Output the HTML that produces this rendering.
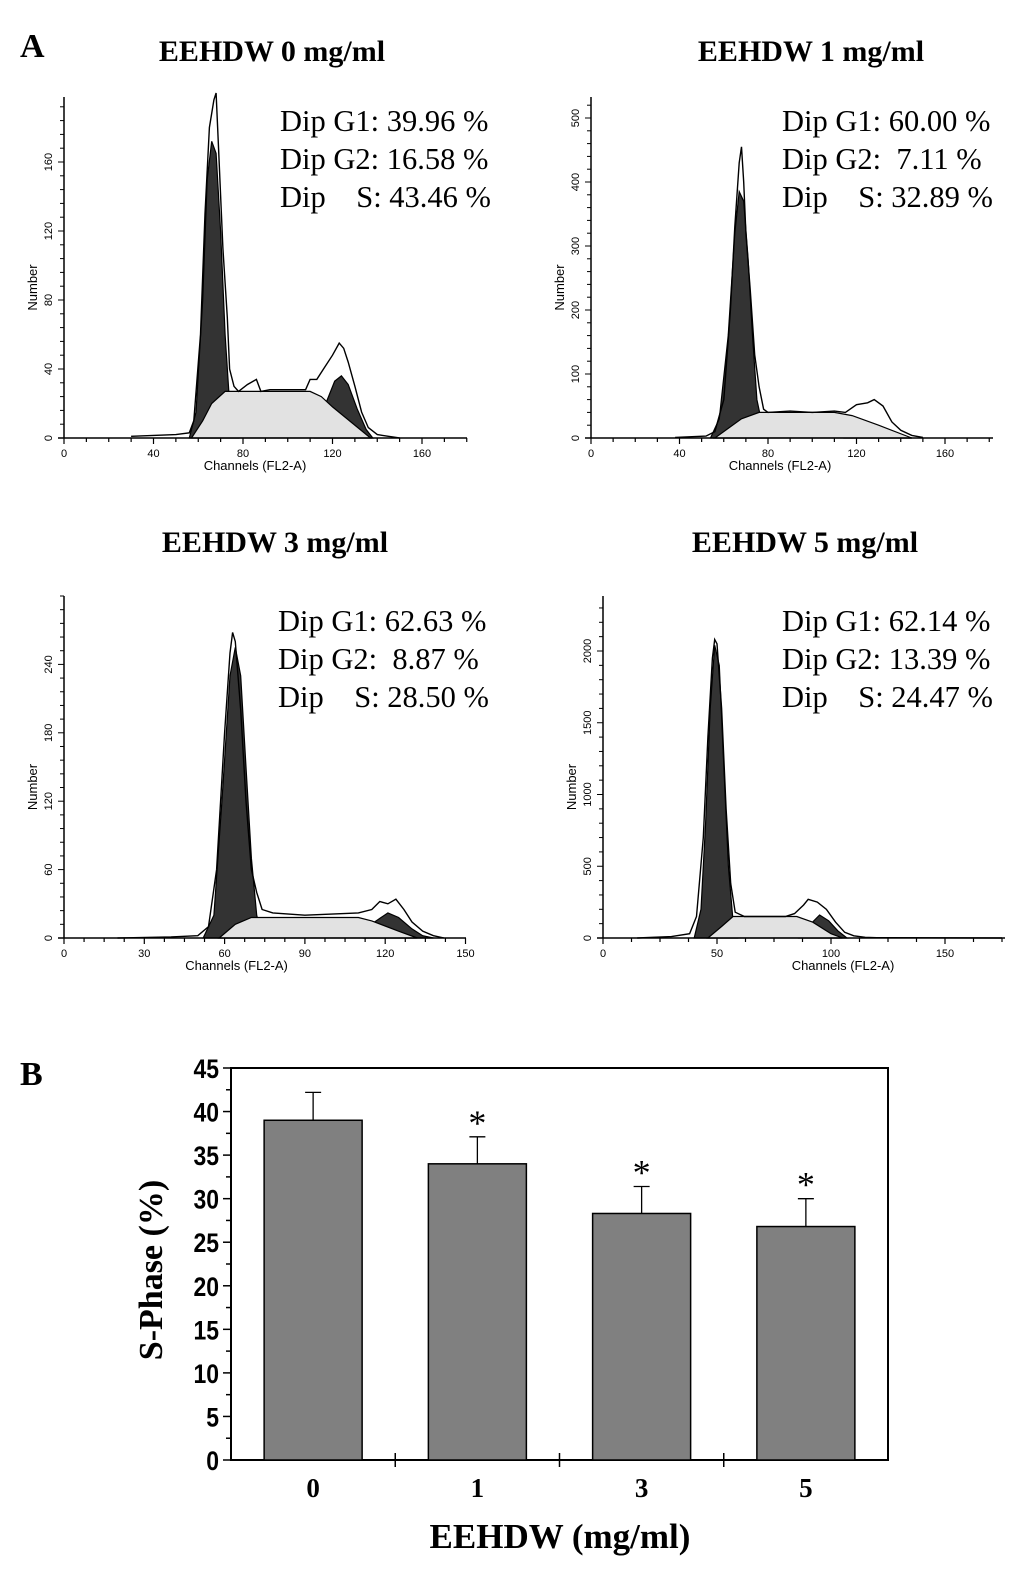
<!DOCTYPE html>
<html><head><meta charset="utf-8">
<style>
body{margin:0;background:#fff;}
svg{display:block;}
.serif{font-family:"Liberation Serif",serif;}
.sans{font-family:"Liberation Sans",sans-serif;}
</style></head>
<body>
<svg id="fig" width="1033" height="1570" viewBox="0 0 1033 1570" xmlns="http://www.w3.org/2000/svg">
<text x="20" y="57" class="serif" font-weight="bold" font-size="34">A</text>
<text x="20" y="1085" class="serif" font-weight="bold" font-size="34">B</text>
<g id="hists"></g>
<g id="bars"></g>
</svg>
<script>
// ---------- Histogram data (channel, count) ----------
const h1Obs=[[30,1],[50,2],[56,3],[58,10],[61,60],[63,130],[65,180],[67,196],[68,200],[69,170],[71,110],[72,90],[73,70],[74,40],[76,30],[78,27],[82,31],[86,34],[88,27],[92,28],[100,28],[108,28],[110,34],[113,34],[116,40],[120,48],[123,55],[125,52],[127,44],[130,30],[133,15],[136,6],[140,2],[145,1],[150,0]];
const h1G1=[[56,0],[59,15],[62,80],[64,150],[66,172],[68,165],[70,120],[72,60],[74,20],[76,5],[78,0]];
const h1S=[[57,0],[62,10],[66,20],[72,27],[110,27],[115,24],[120,18],[137,0]];
const h1G2=[[112,0],[117,20],[121,33],[124,36],[127,31],[131,17],[135,5],[138,0]];

const h2Obs=[[38,1],[52,3],[56,10],[60,60],[63,200],[65,330],[67,430],[68,455],[69,400],[70,320],[72,230],[74,130],[76,80],[78,45],[80,40],[90,42],[100,40],[110,42],[115,40],[120,52],[125,55],[128,60],[132,50],[136,25],[140,12],[145,4],[150,1]];
const h2G1=[[54,0],[58,30],[62,160],[65,320],[67,385],[69,370],[71,280],[73,160],[75,60],[78,10],[80,0]];
const h2S=[[56,0],[62,15],[68,30],[76,40],[110,40],[118,35],[130,20],[145,0]];
const h2G2=[[115,0],[120,10],[125,20],[130,18],[135,10],[140,3],[145,0]];

const h3Obs=[[20,0],[40,1],[50,2],[54,10],[57,60],[60,180],[62,250],[63,268],[64,260],[66,200],[68,120],[70,60],[72,40],[74,25],[78,22],[90,20],[100,21],[110,22],[115,25],[118,32],[121,30],[124,34],[127,25],[130,14],[134,6],[138,2],[142,0]];
const h3G1=[[52,0],[56,20],[59,120],[62,230],[64,255],[66,230],[68,150],[70,70],[72,20],[74,0]];
const h3S=[[58,0],[64,12],[70,18],[110,18],[115,15],[125,6],[132,0]];
const h3G2=[[112,0],[116,14],[121,22],[125,18],[130,8],[134,2],[138,0]];

const h4Obs=[[15,0],[30,10],[38,30],[41,150],[44,700],[46,1400],[48,1950],[49,2080],[50,2050],[52,1600],[54,900],[56,380],[58,180],[62,150],[70,150],[80,150],[84,170],[88,230],[90,270],[94,250],[98,200],[102,110],[106,40],[110,15],[115,5],[120,2],[175,0]];
const h4G1=[[40,0],[43,200],[45,800],[47,1600],[49,2040],[51,1900],[53,1200],[55,500],[57,120],[59,0]];
const h4S=[[46,0],[52,80],[57,150],[85,150],[92,110],[100,30],[105,0]];
const h4G2=[[86,0],[90,80],[95,160],[99,120],[103,50],[107,0]];

const titles=["EEHDW 0 mg/ml","EEHDW 1 mg/ml","EEHDW 3 mg/ml","EEHDW 5 mg/ml"];
const statG1=["39.96 %","60.00 %","62.63 %","62.14 %"];
const statG2=["16.58 %"," 7.11 %"," 8.87 %","13.39 %"];
const statS=["43.46 %","32.89 %","28.50 %","24.47 %"];
const xTicks1=[0,40,80,120,160], yTicks1=[0,40,80,120,160];
const xTicks2=[0,40,80,120,160], yTicks2=[0,100,200,300,400,500];
const xTicks3=[0,30,60,90,120,150], yTicks3=[0,60,120,180,240];
const xTicks4=[0,50,100,150], yTicks4=[0,500,1000,1500,2000];

// ---------- Bar chart data ----------
const barCats=["0","1","3","5"];
const barVals=[39.0,34.0,28.3,26.8];
const barErr=[3.2,3.1,3.1,3.2];
const barSig=[false,true,true,true];
const barYTicks=[0,5,10,15,20,25,30,35,40,45];

const NS="http://www.w3.org/2000/svg";
function mk(tag,attrs,parent){const e=document.createElementNS(NS,tag);for(const k in attrs)e.setAttribute(k,attrs[k]);parent.appendChild(e);return e;}

const panels=[
 {obs:h1Obs,g1:h1G1,s:h1S,g2:h1G2,x0:64,xpx:89.5/40,xEnd:467,y0:438,ypx:69/40,yTop:97,xt:xTicks1,yt:yTicks1,tx:272,ty:61,sx:280,sy:131},
 {obs:h2Obs,g1:h2G1,s:h2S,g2:h2G2,x0:591,xpx:88.5/40,xEnd:993,y0:438,ypx:64/100,yTop:97,xt:xTicks2,yt:yTicks2,tx:811,ty:61,sx:782,sy:131},
 {obs:h3Obs,g1:h3G1,s:h3S,g2:h3G2,x0:64,xpx:80.3/30,xEnd:466,y0:938,ypx:1.14,yTop:596,xt:xTicks3,yt:yTicks3,tx:275,ty:552,sx:278,sy:631},
 {obs:h4Obs,g1:h4G1,s:h4S,g2:h4G2,x0:603,xpx:114/50,xEnd:1005,y0:938,ypx:0.1435,yTop:596,xt:xTicks4,yt:yTicks4,tx:805,ty:552,sx:782,sy:631}
];
const hg=document.getElementById('hists');
panels.forEach((p,i)=>{
  const g=mk('g',{},hg);
  
  
  const X=v=>p.x0+v*p.xpx, Y=v=>p.y0-v*p.ypx;
  const poly=(arr)=>arr.map(d=>X(d[0]).toFixed(1)+','+Y(d[1]).toFixed(1)).join(' ');
  let e;
  e=mk('polygon',{points:poly(p.g1),fill:'#333',stroke:'#000','stroke-width':1.2},g);
  
  
  e=mk('polygon',{points:poly(p.g2),fill:'#333',stroke:'#000','stroke-width':1.2},g);
  
  
  e=mk('polygon',{points:poly(p.s),fill:'#e2e2e2',stroke:'#000','stroke-width':1.2},g);
  
  
  e=mk('polyline',{points:poly(p.obs),fill:'none',stroke:'#000','stroke-width':1.4},g);
  
  
  e=mk('line',{x1:p.x0,y1:p.yTop,x2:p.x0,y2:p.y0,stroke:'#000','stroke-width':1.5},g);
  
  
  e=mk('line',{x1:p.x0-6,y1:p.y0,x2:p.xEnd,y2:p.y0,stroke:'#000','stroke-width':1.5},g);
  
  
  for(let v=0;X(v)<=p.xEnd+0.5;v+=p.xt[1]/4){
    const major=p.xt.includes(v);
    mk('line',{x1:X(v),y1:p.y0,x2:X(v),y2:p.y0+(major?6:4),stroke:'#000','stroke-width':1.2},g);
  }
  p.xt.forEach(v=>{
    e=mk('text',{x:X(v),y:p.y0+19,'text-anchor':'middle','font-size':11,class:'sans'},g);
    e.textContent=v;
    
    
  });
  const ystep=p.yt[1]/5;
  for(let v=0;Y(v)>=p.yTop;v+=ystep){
    const major=p.yt.includes(Math.round(v));
    mk('line',{x1:p.x0-(major?6:4),y1:Y(v),x2:p.x0,y2:Y(v),stroke:'#000','stroke-width':1},g);
  }
  p.yt.forEach(v=>{
    e=mk('text',{x:p.x0-12,y:Y(v),'text-anchor':'middle','font-size':11,class:'sans',transform:`rotate(-90 ${p.x0-12} ${Y(v)})`},g);
    e.textContent=v;
    
    
  });
  const ymid=(p.y0+p.yTop)/2+20;
  e=mk('text',{x:p.x0-27,y:ymid,'text-anchor':'middle','font-size':13,class:'sans',transform:`rotate(-90 ${p.x0-27} ${ymid})`},g);
  e.textContent='Number';
  
  
  e=mk('text',{x:X(p.xt[2])+12,y:p.y0+32,'text-anchor':'middle','font-size':13,class:'sans'},g);
  e.textContent='Channels (FL2-A)';
  
  
  e=mk('text',{x:p.tx,y:p.ty,'text-anchor':'middle','font-size':30,'font-weight':'bold',class:'serif'},g);
  e.textContent=titles[i];
  
  
  const lines=['Dip G1: '+statG1[i],'Dip G2: '+statG2[i],'Dip    S: '+statS[i]];
  lines.forEach((t,k)=>{
    e=mk('text',{x:p.sx,y:p.sy+k*38,'font-size':30.5,class:'serif'},g);
    e.style.whiteSpace='pre';
    e.textContent=t;
    
    
  });
});

// ---------- Bar chart ----------
const bg=document.getElementById('bars');
const BX0=231,BX1=888,BY0=1460,BY45=1068;
const by=v=>BY0-(v/45)*(BY0-BY45);
const bandW=(BX1-BX0)/4;
const bx=i=>BX0+bandW*(i+0.5);
let e;
e=mk('rect',{x:BX0,y:BY45,width:BX1-BX0,height:BY0-BY45,fill:'none',stroke:'#000','stroke-width':2},bg);


barVals.forEach((v,i)=>{
  const w=98,cx=bx(i);
  const top=by(v+barErr[i]);
  e=mk('line',{x1:cx,y1:by(v),x2:cx,y2:top,stroke:'#000','stroke-width':1.3},bg);
  
  
  mk('line',{x1:cx-8,y1:top,x2:cx+8,y2:top,stroke:'#000','stroke-width':1.3},bg);
  e=mk('rect',{x:cx-w/2,y:by(v),width:w,height:BY0-by(v),fill:'#808080',stroke:'#000','stroke-width':1.5},bg);
  
  
  if(barSig[i]){
    e=mk('text',{x:cx,y:top-2,'text-anchor':'middle','font-size':36,class:'serif'},bg);
    e.textContent='*';
    
    
  }
  e=mk('text',{x:cx,y:1497,'text-anchor':'middle','font-size':27,'font-weight':'bold',class:'serif'},bg);
  e.textContent=barCats[i];
  
  
});
for(let i=1;i<4;i++) mk('line',{x1:BX0+bandW*i,y1:BY0-7,x2:BX0+bandW*i,y2:BY0+7,stroke:'#000','stroke-width':1.5},bg);
for(let v=0;v<=45;v+=2.5){
  const major=v%5===0;
  mk('line',{x1:BX0-(major?8:5),y1:by(v),x2:BX0,y2:by(v),stroke:'#000','stroke-width':1.5},bg);
}
barYTicks.forEach(v=>{
  e=mk('text',{x:(BX0-12)/0.85,y:by(v)+10,'text-anchor':'end','font-size':27,'font-weight':'bold',class:'sans',transform:`scale(0.85 1)`},bg);
  e.textContent=v;
  
  
});
e=mk('text',{x:162,y:1270,'text-anchor':'middle','font-size':34,'font-weight':'bold',class:'serif',transform:'rotate(-90 162 1270)'},bg);
e.textContent='S-Phase (%)';


e=mk('text',{x:560,y:1548,'text-anchor':'middle','font-size':35,'font-weight':'bold',class:'serif'},bg);
e.textContent='EEHDW (mg/ml)';


</script>
</body></html>
